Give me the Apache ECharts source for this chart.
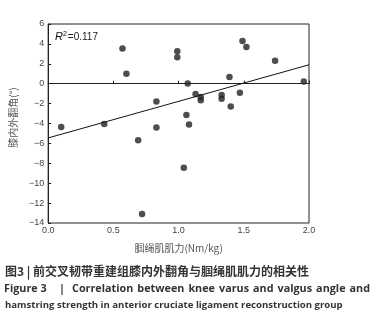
<!DOCTYPE html>
<html lang="zh">
<head>
<meta charset="UTF-8">
<title>膝内外翻角与腘绳肌肌力</title>
<script src="https://cdn.jsdelivr.net/npm/echarts@6/dist/echarts.min.js"></script>
<style>
  html, body { margin: 0; padding: 0; background: #fff; }
  #chart { width: 378px; height: 325px; }
</style>
</head>
<body>
<div id="chart"></div>
<script>
// 腘绳肌肌力 (Nm/kg) vs 膝内外翻角 (°)
var strength = [0.10, 0.43, 0.57, 0.60, 0.69, 0.72, 0.83, 0.83, 0.99, 0.99,
                1.04, 1.06, 1.07, 1.08, 1.13, 1.17, 1.17, 1.33, 1.33, 1.39,
                1.40, 1.47, 1.49, 1.52, 1.74, 1.96];
var angle = [-4.36, -4.05, 3.55, 1.0, -5.69, -13.1, -1.8, -4.39, 3.25, 2.65,
             -8.44, -3.15, 0.03, -4.09, -1.04, -1.34, -1.67, -1.14, -1.5, 0.67,
             -2.28, -0.9, 4.29, 3.69, 2.31, 0.23];
// 回归线两端
var fitX = [0, 2];
var fitY = [-5.45, 1.9];
var xTicks = ['0.0', '0.5', '1.0', '1.5', '2.0'];

var pts = [];
for (var i = 0; i < strength.length; i++) {
  pts.push([strength[i], angle[i]]);
}
var fit = [[fitX[0], fitY[0]], [fitX[1], fitY[1]]];

var axisFont = 'Liberation Sans, Arial, sans-serif';
var cjkFont = '"Noto Sans CJK SC", sans-serif';
var capFont = 'bold 9.6px "Open Sans", sans-serif';
var capFont1 = 'bold 10.8px "Open Sans", sans-serif';

// 英文图题第一行两端对齐
function justifyLine(text, x0, x1, top) {
  var cv = document.createElement('canvas').getContext('2d');
  cv.font = capFont1;
  var words = text.split(' ');
  var total = 0;
  words.forEach(function (w) { total += cv.measureText(w).width; });
  var gap = (x1 - x0 - total) / (words.length - 1);
  var out = [], x = x0;
  words.forEach(function (w) {
    out.push({ type: 'text', left: x, top: top, style: { text: w, font: capFont1, fill: '#333' } });
    x += cv.measureText(w).width + gap;
  });
  return out;
}

var chart = echarts.init(document.getElementById('chart'));

var graphics = [
  {
    type: 'text', left: 55, top: 31,
    style: {
      text: '{r|R}{s|2}{t|=0.117}',
      rich: {
        r: { fontStyle: 'italic', fontSize: 11, fill: '#111', fontFamily: axisFont },
        s: { fontSize: 7, fill: '#111', fontFamily: axisFont, verticalAlign: 'top', padding: [0, 1, 5, 0] },
        t: { fontSize: 10, fill: '#222', fontFamily: axisFont }
      }
    }
  },
  {
    type: 'text', left: 5, top: 265,
    style: { text: '图3 | 前交叉韧带重建组膝内外翻角与腘绳肌肌力的相关性',
      font: 'bold 12px "Noto Sans CJK SC", sans-serif', fill: '#333' }
  },
  { type: 'text', left: 4, top: 283, style: { text: 'Figure 3', font: capFont1, fill: '#333' } },
  { type: 'text', left: 59, top: 283, style: { text: '|', font: capFont1, fill: '#333' } },
  {
    type: 'text', left: 5, top: 300,
    style: { text: 'hamstring strength in anterior cruciate ligament reconstruction group',
      font: capFont, fill: '#333' }
  }
].concat(justifyLine('Correlation between knee varus and valgus angle and', 72, 370, 283));

chart.setOption({
  animation: false,
  grid: { left: 42, right: 69, top: 24, bottom: 102, show: true, borderColor: '#222', borderWidth: 1 },
  xAxis: {
    type: 'value', min: 0, max: 2, interval: 0.5,
    axisLine: { show: true, lineStyle: { color: '#222', width: 1 } },
    axisTick: { show: true, inside: true, length: 3, lineStyle: { color: '#222' } },
    splitLine: { show: false },
    axisLabel: { color: '#444', fontSize: 9, fontFamily: axisFont, margin: 3,
      formatter: function (v) { return xTicks[Math.round(v * 2)]; } },
    name: '腘绳肌肌力(Nm/kg)', nameLocation: 'middle', nameGap: 20,
    nameTextStyle: { color: '#555', fontSize: 10, fontFamily: cjkFont }
  },
  yAxis: {
    type: 'value', min: -14, max: 6, interval: 2,
    axisLine: { show: true, lineStyle: { color: '#222', width: 1 } },
    axisTick: { show: true, inside: true, length: 3, lineStyle: { color: '#222' } },
    splitLine: { show: false },
    axisLabel: { color: '#444', fontSize: 9, fontFamily: axisFont, margin: 4,
      formatter: function (v) { return v < 0 ? '\u2212' + (-v) : String(v); } },
    name: '膝内外翻角(°)', nameLocation: 'middle', nameGap: 21,
    nameTextStyle: { color: '#555', fontSize: 10, fontFamily: cjkFont, padding: [0, 0, 0, 12] }
  },
  series: [
    {
      type: 'scatter', data: pts, symbolSize: 6.5,
      itemStyle: { color: '#222' }
    },
    {
      type: 'line', data: fit, symbol: 'none',
      lineStyle: { color: '#111', width: 1 }
    }
  ],
  graphic: graphics
});
</script>
</body>
</html>
